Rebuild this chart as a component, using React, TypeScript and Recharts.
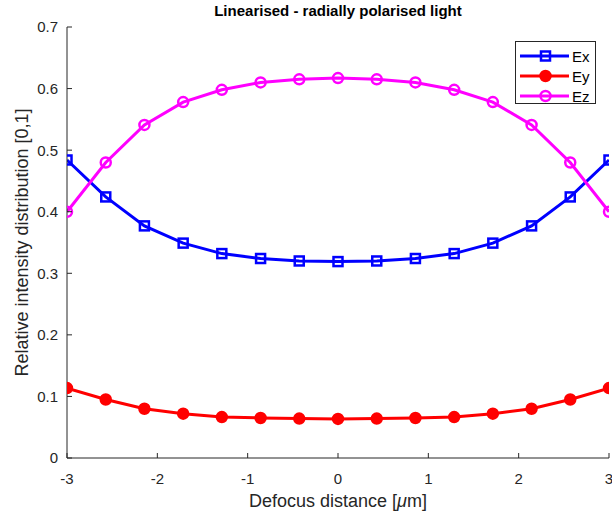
import React from 'react';
import { LineChart, Line, XAxis, YAxis } from 'recharts';

const xValues = [-3, -2.571, -2.143, -1.714, -1.286, -0.857, -0.429, 0, 0.429, 0.857, 1.286, 1.714, 2.143, 2.571, 3];
const exValues = [0.484, 0.424, 0.377, 0.349, 0.332, 0.324, 0.32, 0.319, 0.32, 0.324, 0.332, 0.349, 0.377, 0.424, 0.484];
const eyValues = [0.1135, 0.095, 0.08, 0.072, 0.0665, 0.065, 0.064, 0.0635, 0.064, 0.065, 0.0665, 0.072, 0.08, 0.095, 0.1135];
const ezValues = [0.4, 0.48, 0.541, 0.578, 0.598, 0.61, 0.615, 0.617, 0.615, 0.61, 0.598, 0.578, 0.541, 0.48, 0.4];

const xTicks = [-3, -2, -1, 0, 1, 2, 3];
const yTicks = [0, 0.1, 0.2, 0.3, 0.4, 0.5, 0.6, 0.7];
const yTickLabels = ['0', '0.1', '0.2', '0.3', '0.4', '0.5', '0.6', '0.7'];
const seriesNames = ['Ex', 'Ey', 'Ez'];
const seriesColors = ['#0000ff', '#ff0000', '#ff00ff'];

const data = xValues.map((x, i) => ({ x, Ex: exValues[i], Ey: eyValues[i], Ez: ezValues[i] }));

const AXIS = '#262626';
const FONT = '"Liberation Sans", Arial, Helvetica, sans-serif';
const TICK_LEN = 5;
const X_MARGIN = 10;
const Y_MARGIN = 9;
const TICK_FONT = 15;
const LABEL_FONT = 18;

const BottomTick = (props: any) => {
  const { x, y, payload } = props;
  const ay = y - X_MARGIN;
  return (
    <g>
      <line x1={x} y1={ay} x2={x} y2={ay - TICK_LEN} stroke={AXIS} strokeWidth={1} />
      <text x={x} y={y} dy={16} textAnchor="middle" fill={AXIS} fontSize={TICK_FONT} fontFamily={FONT}>
        {String(payload.value)}
      </text>
    </g>
  );
};

const TopTick = (props: any) => {
  const { x, y } = props;
  return <line x1={x} y1={y} x2={x} y2={y + TICK_LEN} stroke={AXIS} strokeWidth={1} />;
};

const LeftTick = (props: any) => {
  const { x, y, payload, index } = props;
  const ax = x + Y_MARGIN;
  return (
    <g>
      <line x1={ax} y1={y} x2={ax + TICK_LEN} y2={y} stroke={AXIS} strokeWidth={1} />
      <text x={x} y={y} dy="0.36em" textAnchor="end" fill={AXIS} fontSize={TICK_FONT} fontFamily={FONT}>
        {yTickLabels[yTicks.indexOf(payload.value)] ?? yTickLabels[index]}
      </text>
    </g>
  );
};

const RightTick = (props: any) => {
  const { x, y } = props;
  return <line x1={x} y1={y} x2={x - TICK_LEN} y2={y} stroke={AXIS} strokeWidth={1} />;
};

const YLabel = (props: any) => {
  const vb = props.viewBox || { x: 0, y: 0, width: 0, height: 0 };
  const cx = 22;
  const cy = vb.y + vb.height / 2;
  return (
    <text
      x={cx}
      y={cy}
      transform={`rotate(-90, ${cx}, ${cy})`}
      textAnchor="middle"
      dominantBaseline="central"
      fill={AXIS}
      fontSize={LABEL_FONT}
      fontFamily={FONT}
    >
      Relative intensity distribution [0,1]
    </text>
  );
};

const XLabel = (props: any) => {
  const vb = props.viewBox || { x: 0, y: 0, width: 0, height: 0 };
  const cx = vb.x + vb.width / 2;
  return (
    <text x={cx} y={vb.y + 43} textAnchor="middle" dominantBaseline="central" fill={AXIS} fontSize={LABEL_FONT} fontFamily={FONT}>
      Defocus distance [<tspan fontStyle="italic">μ</tspan>m]
    </text>
  );
};

const SquareDot = (color: string) => (props: any) => {
  const { cx, cy, index } = props;
  if (cx == null || cy == null) return <g key={index} />;
  return <rect key={index} x={cx - 4.5} y={cy - 4.5} width={9} height={9} fill="none" stroke={color} strokeWidth={2.5} />;
};

const CircleDot = (color: string, filled: boolean) => (props: any) => {
  const { cx, cy, index } = props;
  if (cx == null || cy == null) return <g key={index} />;
  return <circle key={index} cx={cx} cy={cy} r={5} fill={filled ? color : 'none'} stroke={color} strokeWidth={2.5} />;
};

const LegendMarker = ({ i }: { i: number }) => {
  const c = seriesColors[i];
  if (i === 0) return <rect x={20} y={3.5} width={9} height={9} fill="none" stroke={c} strokeWidth={2.5} />;
  if (i === 1) return <circle cx={24.5} cy={8} r={5} fill={c} stroke={c} strokeWidth={2.5} />;
  return <circle cx={24.5} cy={8} r={5} fill="none" stroke={c} strokeWidth={2.5} />;
};

export default function App() {
  return (
    <div style={{ position: 'absolute', left: 0, top: 0, width: 612, height: 516, background: '#fff' }}>
      <LineChart width={612} height={516} data={data} margin={{ top: 27, right: 3, bottom: 0, left: 0 }}>
        <XAxis
          dataKey="x"
          type="number"
          domain={[-3, 3]}
          ticks={xTicks}
          allowDataOverflow
          height={58}
          tickSize={0}
          tickMargin={X_MARGIN}
          tick={<BottomTick />}
          axisLine={{ stroke: AXIS, strokeWidth: 1 }}
          label={<XLabel />}
          interval={0}
        />
        <XAxis
          xAxisId="top"
          orientation="top"
          dataKey="x"
          type="number"
          domain={[-3, 3]}
          ticks={xTicks}
          height={0}
          tickSize={0}
          tickMargin={0}
          tick={<TopTick />}
          axisLine={{ stroke: AXIS, strokeWidth: 1 }}
          interval={0}
        />
        <YAxis
          type="number"
          domain={[0, 0.7]}
          ticks={yTicks}
          width={67}
          tickSize={0}
          tickMargin={Y_MARGIN}
          tick={<LeftTick />}
          axisLine={{ stroke: AXIS, strokeWidth: 1 }}
          label={<YLabel />}
          interval={0}
        />
        <YAxis
          yAxisId="right"
          orientation="right"
          type="number"
          domain={[0, 0.7]}
          ticks={yTicks}
          width={0}
          tickSize={0}
          tickMargin={0}
          tick={<RightTick />}
          axisLine={{ stroke: AXIS, strokeWidth: 1 }}
          interval={0}
        />
        <Line dataKey="Ex" stroke={seriesColors[0]} strokeWidth={3} dot={SquareDot(seriesColors[0])} isAnimationActive={false} />
        <Line dataKey="Ey" stroke={seriesColors[1]} strokeWidth={3} dot={CircleDot(seriesColors[1], true)} isAnimationActive={false} />
        <Line dataKey="Ez" stroke={seriesColors[2]} strokeWidth={3} dot={CircleDot(seriesColors[2], false)} isAnimationActive={false} />
      </LineChart>
      <div
        style={{
          position: 'absolute',
          left: 0,
          top: 2,
          width: 676,
          textAlign: 'center',
          fontFamily: FONT,
          fontWeight: 'bold',
          fontSize: 15,
          color: '#000',
          lineHeight: '18px',
        }}
      >
        Linearised - radially polarised light
      </div>
      <div
        style={{
          position: 'absolute',
          left: 515,
          top: 41,
          width: 81,
          height: 63,
          border: `1px solid ${AXIS}`,
          background: '#fff',
          boxSizing: 'border-box',
          paddingTop: 4,
        }}
      >
        {seriesNames.map((name, i) => (
          <div key={name} style={{ display: 'flex', alignItems: 'center', height: 20 }}>
            <svg width={56} height={16} style={{ display: 'block' }}>
              <line x1={4} y1={8} x2={53} y2={8} stroke={seriesColors[i]} strokeWidth={3} />
              <g transform="translate(5,0)">
                <LegendMarker i={i} />
              </g>
            </svg>
            <span style={{ fontFamily: FONT, fontSize: 15, color: '#000', marginLeft: 0 }}>{name}</span>
          </div>
        ))}
      </div>
    </div>
  );
}
